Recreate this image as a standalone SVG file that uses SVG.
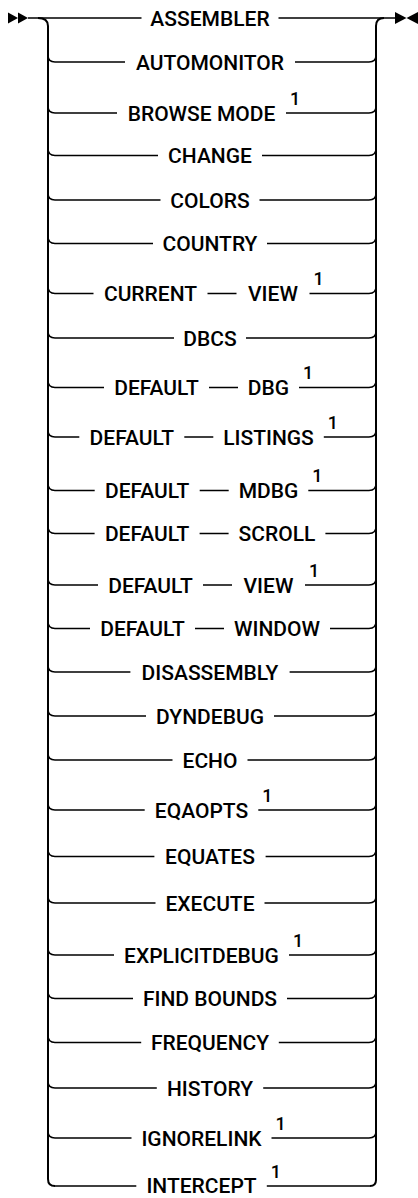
<svg xmlns="http://www.w3.org/2000/svg" width="418" height="1198" viewBox="0 0 418 1198">
<style>
.ln{fill:none;stroke:#000;stroke-width:1.5}
.rail{fill:none;stroke:#000;stroke-width:2}
.t{font-family:Roboto,"Liberation Sans",sans-serif;font-size:21px;font-weight:500;fill:#000;text-anchor:middle}
.s{font-family:Roboto,"Liberation Sans",sans-serif;font-size:18px;font-weight:500;fill:#000}
.mk{fill:#000}
</style>
<rect width="418" height="1198" fill="#fff"/>
<g id="markers">
<polygon class="mk" points="8,12.5 18,18 8,23.5"/>
<polygon class="mk" points="18,12.5 28,18 18,23.5"/>
<polygon class="mk" points="395,12 406.5,18 395,24"/>
<polygon class="mk" points="418,12 406.5,18 418,24"/>
</g>
<g id="connectors">
<path class="ln" d="M28,18H141.5M278.5,18H395"/>
<path class="rail" d="M38,18Q48,18 48,26V1179Q48,1186 55,1186"/>
<path class="rail" d="M370,1186Q376,1186 376,1180V26Q376,18 384,18"/>
<path class="ln" d="M48,55Q48,62 55,62H125M295,62H369Q376,62 376,55"/>
<path class="ln" d="M48,106Q48,113 55,113H117M286,113H369Q376,113 376,106"/>
<path class="ln" d="M48,148.5Q48,155.5 55,155.5H158M262,155.5H369Q376,155.5 376,148.5"/>
<path class="ln" d="M48,193Q48,200 55,200H160.5M259.5,200H369Q376,200 376,193"/>
<path class="ln" d="M48,236.5Q48,243.5 55,243.5H153M267,243.5H369Q376,243.5 376,236.5"/>
<path class="ln" d="M48,286.5Q48,293.5 55,293.5H93.5M207.5,293.5H236.5M309.5,293.5H369Q376,293.5 376,286.5"/>
<path class="ln" d="M48,331Q48,338 55,338H174M246,338H369Q376,338 376,331"/>
<path class="ln" d="M48,380.5Q48,387.5 55,387.5H104M209,387.5H238M299,387.5H369Q376,387.5 376,380.5"/>
<path class="ln" d="M48,430Q48,437 55,437H79.3M184.3,437H213.3M323.8,437H369Q376,437 376,430"/>
<path class="ln" d="M48,483.5Q48,490.5 55,490.5H94.7M199.7,490.5H228.7M308.3,490.5H369Q376,490.5 376,483.5"/>
<path class="ln" d="M48,526.5Q48,533.5 55,533.5H94.6M199.6,533.5H228.6M325.4,533.5H369Q376,533.5 376,526.5"/>
<path class="ln" d="M48,578Q48,585 55,585H98M203,585H232M305,585H369Q376,585 376,578"/>
<path class="ln" d="M48,621.5Q48,628.5 55,628.5H90M195,628.5H224M330,628.5H369Q376,628.5 376,621.5"/>
<path class="ln" d="M48,665Q48,672 55,672H130.4M289.6,672H369Q376,672 376,665"/>
<path class="ln" d="M48,709Q48,716 55,716H146M274,716H369Q376,716 376,709"/>
<path class="ln" d="M48,753Q48,760 55,760H172.5M247.5,760H369Q376,760 376,753"/>
<path class="ln" d="M48,803Q48,810 55,810H144.7M258.3,810H369Q376,810 376,803"/>
<path class="ln" d="M48,849.5Q48,856.5 55,856.5H154.4M265.6,856.5H369Q376,856.5 376,849.5"/>
<path class="ln" d="M48,896Q48,903 55,903H155.5M264.5,903H369Q376,903 376,896"/>
<path class="ln" d="M48,948Q48,955 55,955H114M289,955H369Q376,955 376,948"/>
<path class="ln" d="M48,991.5Q48,998.5 55,998.5H133M287,998.5H369Q376,998.5 376,991.5"/>
<path class="ln" d="M48,1035.5Q48,1042.5 55,1042.5H141.2M278.8,1042.5H369Q376,1042.5 376,1035.5"/>
<path class="ln" d="M48,1081Q48,1088 55,1088H156.8M263.2,1088H369Q376,1088 376,1081"/>
<path class="ln" d="M48,1131Q48,1138 55,1138H131.5M271.5,1138H369Q376,1138 376,1131"/>
<path class="ln" d="M55,1186H136.3M266.8,1186H370"/>
</g>
<g id="n-assembler"><text class="t" x="210" y="25.5">ASSEMBLER</text></g>
<g id="n-automonitor"><text class="t" x="210" y="69.5">AUTOMONITOR</text></g>
<g id="n-browse-mode"><text class="t" x="201.5" y="120.5">BROWSE MODE</text><text class="s" x="290" y="104.5">1</text></g>
<g id="n-change"><text class="t" x="210" y="163">CHANGE</text></g>
<g id="n-colors"><text class="t" x="210" y="207.5">COLORS</text></g>
<g id="n-country"><text class="t" x="210" y="251">COUNTRY</text></g>
<g id="n-current-view"><text class="t" x="150.5" y="301">CURRENT</text><text class="t" x="273" y="301">VIEW</text><text class="s" x="313.5" y="285">1</text></g>
<g id="n-dbcs"><text class="t" x="210" y="345.5">DBCS</text></g>
<g id="n-default-dbg"><text class="t" x="156.5" y="395">DEFAULT</text><text class="t" x="268.5" y="395">DBG</text><text class="s" x="303" y="379">1</text></g>
<g id="n-default-listings"><text class="t" x="131.8" y="444.5">DEFAULT</text><text class="t" x="268.5" y="444.5">LISTINGS</text><text class="s" x="327.8" y="428.5">1</text></g>
<g id="n-default-mdbg"><text class="t" x="147.2" y="498">DEFAULT</text><text class="t" x="268.5" y="498">MDBG</text><text class="s" x="312.3" y="482">1</text></g>
<g id="n-default-scroll"><text class="t" x="147.1" y="541">DEFAULT</text><text class="t" x="277" y="541">SCROLL</text></g>
<g id="n-default-view"><text class="t" x="150.5" y="592.5">DEFAULT</text><text class="t" x="268.5" y="592.5">VIEW</text><text class="s" x="309" y="576.5">1</text></g>
<g id="n-default-window"><text class="t" x="142.5" y="636">DEFAULT</text><text class="t" x="277" y="636">WINDOW</text></g>
<g id="n-disassembly"><text class="t" x="210" y="679.5">DISASSEMBLY</text></g>
<g id="n-dyndebug"><text class="t" x="210" y="723.5">DYNDEBUG</text></g>
<g id="n-echo"><text class="t" x="210" y="767.5">ECHO</text></g>
<g id="n-eqaopts"><text class="t" x="201.5" y="817.5">EQAOPTS</text><text class="s" x="262.3" y="801.5">1</text></g>
<g id="n-equates"><text class="t" x="210" y="864">EQUATES</text></g>
<g id="n-execute"><text class="t" x="210" y="910.5">EXECUTE</text></g>
<g id="n-explicitdebug"><text class="t" x="201.5" y="962.5">EXPLICITDEBUG</text><text class="s" x="293" y="946.5">1</text></g>
<g id="n-find-bounds"><text class="t" x="210" y="1006">FIND BOUNDS</text></g>
<g id="n-frequency"><text class="t" x="210" y="1050">FREQUENCY</text></g>
<g id="n-history"><text class="t" x="210" y="1095.5">HISTORY</text></g>
<g id="n-ignorelink"><text class="t" x="201.5" y="1145.5">IGNORELINK</text><text class="s" x="275.5" y="1129.5">1</text></g>
<g id="n-intercept"><text class="t" x="201.5" y="1192.5">INTERCEPT</text><text class="s" x="270.8" y="1177.5">1</text></g>
</svg>
